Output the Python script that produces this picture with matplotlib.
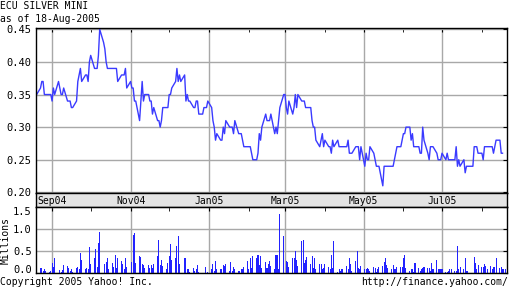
import numpy as np
import pandas as pd
import matplotlib
matplotlib.use('Agg')
import matplotlib.pyplot as plt
import matplotlib.dates as mdates
import matplotlib.transforms as mtrans

#===================================================================================================
# data (one value per trading day)

title = 'ECU SILVER MINI'
subtitle = 'as of 18-Aug-2005'
first_day = '2004-08-20'

prices = [0.35,0.36,0.37,0.37,0.35,0.35,0.35,0.35,0.34,0.36,
          0.35,0.37,0.36,0.35,0.35,0.36,0.34,0.34,0.34,0.33,
          0.33,0.34,0.37,0.38,0.39,0.37,0.38,0.38,0.37,0.40,
          0.41,0.39,0.39,0.39,0.41,0.45,0.43,0.42,0.40,0.39,
          0.39,0.39,0.39,0.39,0.39,0.37,0.38,0.38,0.38,0.39,
          0.36,0.37,0.36,0.36,0.34,0.34,0.31,0.34,0.37,0.34,
          0.35,0.35,0.34,0.34,0.32,0.33,0.31,0.31,0.30,0.31,
          0.33,0.33,0.33,0.35,0.35,0.36,0.37,0.39,0.37,0.38,
          0.37,0.38,0.34,0.35,0.34,0.34,0.33,0.33,0.34,0.34,
          0.32,0.32,0.33,0.33,0.33,0.34,0.33,0.31,0.30,0.28,
          0.29,0.28,0.28,0.30,0.29,0.31,0.30,0.30,0.30,0.29,
          0.31,0.29,0.29,0.29,0.28,0.27,0.27,0.27,0.27,0.26,
          0.25,0.25,0.26,0.29,0.28,0.30,0.32,0.31,0.31,0.31,
          0.32,0.29,0.30,0.29,0.31,0.33,0.35,0.35,0.33,0.32,
          0.34,0.32,0.33,0.35,0.33,0.35,0.34,0.34,0.34,0.33,
          0.33,0.33,0.31,0.30,0.30,0.28,0.27,0.28,0.29,0.27,
          0.28,0.27,0.27,0.26,0.28,0.27,0.28,0.27,0.27,0.27,
          0.27,0.27,0.28,0.26,0.26,0.26,0.27,0.27,0.27,0.25,
          0.27,0.24,0.26,0.25,0.25,0.27,0.26,0.25,0.24,0.24,
          0.24,0.21,0.24,0.24,0.24,0.24,0.24,0.24,0.25,0.26,
          0.27,0.27,0.28,0.29,0.29,0.30,0.30,0.28,0.29,0.27,
          0.27,0.27,0.26,0.26,0.30,0.28,0.26,0.25,0.27,0.27,
          0.27,0.26,0.25,0.25,0.25,0.26,0.25,0.26,0.25,0.25,
          0.25,0.25,0.27,0.24,0.25,0.24,0.25,0.23,0.24,0.24,
          0.24,0.24,0.27,0.27,0.27,0.26,0.26,0.25,0.27,0.27,
          0.27,0.27,0.27,0.26,0.27,0.28,0.28,0.26,0.26]

volume_m = [0.30,0.12,0.12,0.05,0.08,0.05,0.02,0.05,0.23,0.14,
            0.35,0.00,0.07,0.03,0.07,0.18,0.17,0.12,0.05,0.10,
            0.02,0.12,0.14,0.10,0.46,0.30,0.10,0.12,0.10,0.58,
            0.21,0.33,0.55,0.14,0.69,0.94,0.00,0.21,0.26,0.35,
            0.10,0.23,0.14,0.42,0.12,0.33,0.28,0.21,0.10,0.33,
            0.14,0.00,0.26,0.87,0.92,0.23,0.39,0.37,0.21,0.19,
            0.12,0.19,0.12,0.19,0.12,0.21,0.39,0.76,0.19,0.30,
            0.17,0.10,0.23,0.39,0.67,0.30,0.33,0.62,0.83,0.21,
            0.00,0.33,0.33,0.08,0.10,0.02,0.12,0.05,0.08,0.19,
            0.03,0.00,0.00,0.14,0.00,0.02,0.08,0.21,0.05,0.28,
            0.10,0.08,0.08,0.19,0.17,0.21,0.05,0.26,0.05,0.14,
            0.10,0.05,0.05,0.10,0.10,0.14,0.28,0.08,0.35,0.12,
            0.39,0.35,0.42,0.19,0.39,0.12,0.26,0.12,0.21,0.28,
            0.17,0.08,0.42,0.42,0.10,1.35,0.85,0.00,0.28,0.26,
            0.14,0.35,0.33,0.51,0.30,0.17,0.73,0.76,0.23,0.30,
            0.37,0.21,0.39,0.12,0.33,0.08,0.21,0.21,0.10,0.12,
            0.21,0.14,0.08,0.42,0.12,0.73,0.03,0.08,0.05,0.10,
            0.10,0.17,0.10,0.35,0.21,0.05,0.28,0.51,0.12,0.08,
            0.17,0.10,0.08,0.12,0.10,0.05,0.14,0.12,0.02,0.10,
            0.14,0.17,0.26,0.33,0.19,0.12,0.10,0.19,0.08,0.08,
            0.14,0.14,0.14,0.35,0.42,0.12,0.05,0.08,0.08,0.03,
            0.23,0.12,0.05,0.08,0.12,0.14,0.12,0.12,0.05,0.23,
            0.08,0.30,0.08,0.10,0.10,0.10,0.03,0.03,0.05,0.08,
            0.10,0.05,0.05,0.62,0.08,0.14,0.08,0.35,0.05,0.05,
            0.00,0.00,0.37,0.23,0.08,0.19,0.14,0.14,0.21,0.17,
            0.08,0.17,0.10,0.14,0.14,0.35,0.12,0.14,0.10,0.08,
            0.08]

price_ticks = [0.20, 0.25, 0.30, 0.35, 0.40, 0.45]
volume_ticks = [0.0, 0.5, 1.0, 1.5]

#===================================================================================================

days = pd.bdate_range(start=first_day, periods=len(volume_m))
price_days = days[:len(prices)]

xmin = pd.Timestamp('2004-08-19 12:00')
xmax = pd.Timestamp('2005-08-20 12:00')

plt.rcParams['font.family'] = 'DejaVu Sans Mono'
plt.rcParams['font.size'] = 7

fig = plt.figure(figsize=(5.12, 2.88), dpi=100)
W, H = 512.0, 288.0
left, width = 36/W, 471/W

ax_p = fig.add_axes([left, 1-193/H, width, 165/H])
ax_b = fig.add_axes([left, 1-207/H, width, 14/H], sharex=ax_p)
ax_v = fig.add_axes([left, 1-273/H, width, 66/H], sharex=ax_p)

grid_c = '#a8a8a8'
line_c = '#3a3aff'

major = mdates.MonthLocator(bymonth=[1, 3, 5, 7, 9, 11])
minor = mdates.MonthLocator()

for ax in (ax_p, ax_v):
    for s in ax.spines.values():
        s.set_linewidth(1)
    ax.xaxis.set_major_locator(major)
    ax.xaxis.set_minor_locator(minor)
    ax.grid(True, which='major', color=grid_c, lw=1)
    ax.set_axisbelow(True)
    ax.tick_params(axis='x', which='both', direction='in', top=True, bottom=False,
                   labelbottom=False, length=3, color='black')
    ax.tick_params(axis='y', which='both', direction='in', left=False, right=True,
                   length=3, labelsize=7.5, pad=3)

#price panel
ax_p.plot(price_days, prices, color=line_c, lw=1)
ax_p.set_yticks(price_ticks)
ax_p.set_yticklabels(['%.2f' % t for t in price_ticks])
ax_p.set_ylim(0.199, 0.452)
ax_p.set_xlim(xmin, xmax)

#date band
ax_b.set_facecolor('#e4e4e4')
ax_b.set_yticks([])
ax_b.tick_params(axis='x', which='both', bottom=False, labelbottom=False, length=0)
for s in ax_b.spines.values():
    s.set_linewidth(1)
trans = mtrans.blended_transform_factory(ax_b.transData, ax_b.transAxes)
for d in pd.date_range('2004-09-01', '2005-07-01', freq='2MS'):
    ax_b.text(d, 0.45, d.strftime('%b%y'), transform=trans, ha='center', va='center', fontsize=7)

#volume panel
ax_v.bar(days, volume_m, width=0.8, color='#2222ff', linewidth=0)
ax_v.set_ylim(0, 1.5)
ax_v.set_yticks(volume_ticks)
ax_v.set_yticklabels(['%.1f' % t for t in volume_ticks])
ax_v.set_ylabel('Millions', fontsize=7, labelpad=2)
ax_v.set_xlim(xmin, xmax)
#end labels sit inside the panel
vlabels = ax_v.get_yticklabels()
vlabels[0].set_transform(vlabels[0].get_transform() + mtrans.ScaledTranslation(0, 3/72, fig.dpi_scale_trans))
vlabels[-1].set_transform(vlabels[-1].get_transform() + mtrans.ScaledTranslation(0, -3/72, fig.dpi_scale_trans))

#texts
fig.text(0, 1-6/H, title, ha='left', va='center', fontsize=7)
fig.text(0, 1-19/H, subtitle, ha='left', va='center', fontsize=7)
fig.text(0, 1-282/H, 'Copyright 2005 Yahoo! Inc.', ha='left', va='center', fontsize=7)
fig.text(508/W, 1-282/H, 'http://finance.yahoo.com/', ha='right', va='center', fontsize=7)

fig.savefig('out.png', dpi=100)
plt.close()
